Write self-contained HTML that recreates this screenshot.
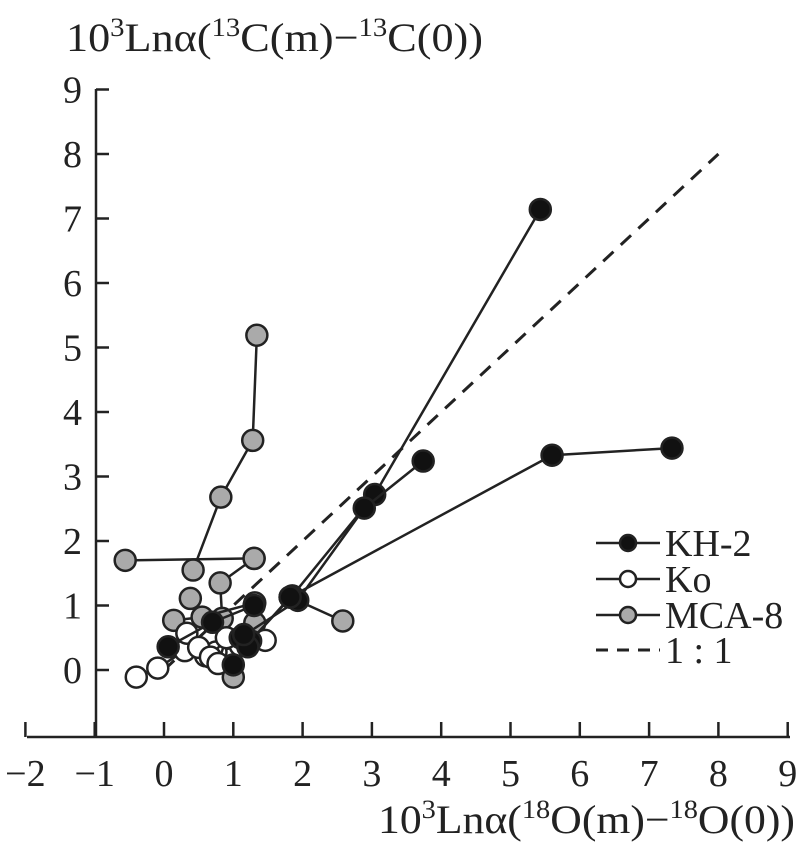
<!DOCTYPE html>
<html><head><meta charset="utf-8"><style>
html,body{margin:0;padding:0;background:#fff;}
svg{display:block;font-family:"Liberation Serif",serif;}
</style></head><body>
<svg id="chart" width="801" height="847" viewBox="0 0 801 847">
<g id="axes"></g><g id="plot"></g><g id="legend"></g>
<text x="66" y="51" font-size="40" fill="#222" textLength="417" lengthAdjust="spacingAndGlyphs">10<tspan font-size="26" dy="-15">3</tspan><tspan dy="15">Lnα(</tspan><tspan font-size="26" dy="-15">13</tspan><tspan dy="15">C(m)−</tspan><tspan font-size="26" dy="-15">13</tspan><tspan dy="15">C(0))</tspan></text>
<text x="378" y="833" font-size="40" fill="#222" textLength="417" lengthAdjust="spacingAndGlyphs">10<tspan font-size="26" dy="-15">3</tspan><tspan dy="15">Lnα(</tspan><tspan font-size="26" dy="-15">18</tspan><tspan dy="15">O(m)−</tspan><tspan font-size="26" dy="-15">18</tspan><tspan dy="15">O(0))</tspan></text>
</svg>
<script>
const xTicks=[-2,-1,0,1,2,3,4,5,6,7,8,9];
const yTicks=[0,1,2,3,4,5,6,7,8,9];
const khA=[[1.2,0.4],[1.85,1.15],[3.04,2.72],[5.43,7.14]];
const khB=[[1.1,0.5],[1.93,1.08],[2.89,2.51],[3.74,3.24]];
const khC=[[1.25,0.45],[1.82,1.13],[5.6,3.33],[7.33,3.44]];
const khD=[[0.06,0.36],[0.7,0.74],[1.3,1.0]];
const khE=[[1.0,0.08],[1.21,0.36],[1.15,0.55]];
const koA=[[-0.4,-0.11],[-0.09,0.03],[0.3,0.3],[0.6,0.22],[0.75,0.28],[1.1,0.38],[1.46,0.46]];
const koB=[[0.33,0.57],[0.5,0.35],[0.67,0.2],[0.9,0.5],[0.78,0.1]];
const mcaA=[[1.34,5.19],[1.28,3.56],[0.82,2.68],[0.42,1.55]];
const mcaB=[[-0.56,1.7],[1.3,1.73]];
const mcaC=[[1.3,1.73],[0.81,1.35],[0.84,0.8]];
const mcaD=[[0.14,0.77],[0.55,0.82],[1.31,1.04]];
const mcaE=[[1.82,1.13],[2.58,0.76]];
const mcaF=[[0.38,1.11]];
const mcaG=[[1.31,0.73],[1.0,-0.11]];
const oneToOne=[[0,0],[8,8]];
const X=v=>164+v*69.3, Y=v=>670-v*64.5;
const NS='http://www.w3.org/2000/svg';
function mk(tag,parent,attrs){const e=document.createElementNS(NS,tag);for(const k in attrs)e.setAttribute(k,attrs[k]);document.getElementById(parent).appendChild(e);return e;}
let ax=mk('line','axes',{x1:27,y1:737,x2:790,y2:737,stroke:'#222','stroke-width':2.5});


let ay=mk('line','axes',{x1:96,y1:89,x2:96,y2:737,stroke:'#222','stroke-width':2.5});


xTicks.forEach(t=>{let l=mk('line','axes',{x1:X(t),y1:737,x2:X(t),y2:722,stroke:'#222','stroke-width':2.5});


let tx=mk('text','axes',{x:X(t),y:786,'text-anchor':'middle','font-size':38,fill:'#222'});tx.textContent=t<0?'−'+(-t):t;

});
yTicks.forEach(t=>{let l=mk('line','axes',{x1:96,y1:Y(t),x2:109,y2:Y(t),stroke:'#222','stroke-width':2.5});


let tx=mk('text','axes',{x:82,y:Y(t)+13,'text-anchor':'end','font-size':38,fill:'#222'});tx.textContent=t;

});
let dl=mk('line','plot',{x1:X(oneToOne[0][0]),y1:Y(oneToOne[0][1]),x2:X(oneToOne[1][0]),y2:Y(oneToOne[1][1]),stroke:'#222','stroke-width':3,'stroke-dasharray':'14 10'});


function series(arr,fill,name){
 if(arr.length>1){let p=mk('polyline','plot',{points:arr.map(d=>X(d[0])+','+Y(d[1])).join(' '),fill:'none',stroke:'#222','stroke-width':2.5});
 
 }
 arr.forEach(d=>{let c=mk('circle','plot',{cx:X(d[0]),cy:Y(d[1]),r:10.5,fill:fill,stroke:'#222','stroke-width':2.5});
 
 });
}
[mcaA,mcaB,mcaC,mcaD,mcaE,mcaF,mcaG].forEach(a=>series(a,'#aaa','mca8'));
[koA,koB].forEach(a=>series(a,'#fff','ko'));
[khA,khB,khC,khD,khE].forEach(a=>series(a,'#111','kh2'));
const leg=[['KH-2','#111',543],['Ko','#fff',579],['MCA-8','#aaa',615]];
leg.forEach(([n,f,y])=>{let l=mk('line','legend',{x1:596,y1:y,x2:660,y2:y,stroke:'#222','stroke-width':2.5});


let c=mk('circle','legend',{cx:628,cy:y,r:8,fill:f,stroke:'#222','stroke-width':2.5});


let t=mk('text','legend',{x:665,y:y+13,'font-size':38,fill:'#222'});t.textContent=n;

});
let ld=mk('line','legend',{x1:596,y1:650,x2:660,y2:650,stroke:'#222','stroke-width':3,'stroke-dasharray':'12 9'});


let lt=mk('text','legend',{x:665,y:663,'font-size':38,fill:'#222'});lt.textContent='1 : 1';


</script>
</body></html>
